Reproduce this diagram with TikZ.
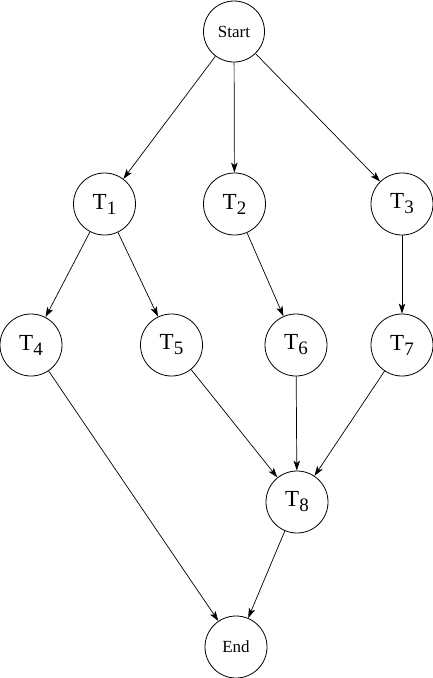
\documentclass[tikz,border=0pt]{standalone}
\usepackage{fontspec}
\setmainfont{Liberation Serif}
\usetikzlibrary{arrows.meta}
\newcommand{\Tlab}[1]{\fontsize{23}{23}\selectfont T\raisebox{-5pt}{\fontsize{19}{19}\selectfont #1}}
\begin{document}
\begin{tikzpicture}[x=1pt,y=-1pt,
  task/.style={circle,draw,line width=0.8pt,minimum size=62pt,inner sep=0pt},
  wordlab/.style={font=\fontsize{17}{17}\selectfont},
  conn/.style={line width=0.7pt,-{Stealth[length=10pt,width=6.5pt,inset=2.5pt]},shorten >=0pt}]
\useasboundingbox (0,0) rectangle (433,678);
\clip (0,0) rectangle (433,678);
\node[task,wordlab,minimum size=61pt] (start) at (234,31.5) {Start};
\node[task] (t1) at (104.5,204) {\Tlab{1}};
\node[task] (t2) at (234.5,204) {\Tlab{2}};
\node[task] (t3) at (402,204) {\Tlab{3}};
\node[task] (t4) at (31,345) {\Tlab{4}};
\node[task] (t5) at (171.5,345) {\Tlab{5}};
\node[task] (t6) at (296,345) {\Tlab{6}};
\node[task] (t7) at (402,345) {\Tlab{7}};
\node[task] (t8) at (297,502) {\Tlab{8}};
\node[task,wordlab] (end) at (236,647) {End};
\draw[conn] (start) -- (t1);
\draw[conn] (start) -- (t2);
\draw[conn] (start) -- (t3);
\draw[conn] (t1) -- (t4);
\draw[conn] (t1) -- (t5);
\draw[conn] (t2) -- (t6);
\draw[conn] (t3) -- (t7);
\draw[conn] (t4) -- (end);
\draw[conn] (t5) -- (t8);
\draw[conn] (t6) -- (t8);
\draw[conn] (t7) -- (t8);
\draw[conn] (t8) -- (end);
\end{tikzpicture}
\end{document}
